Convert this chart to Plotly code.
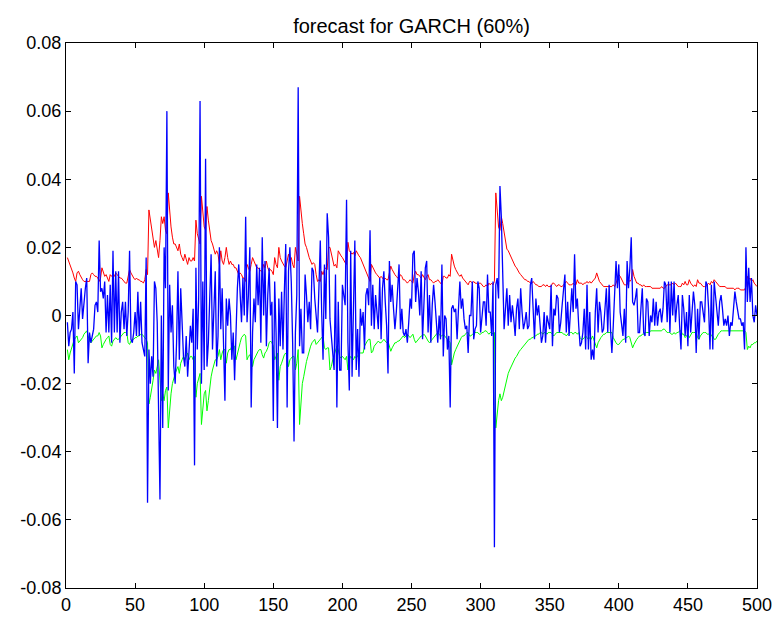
import plotly.graph_objects as go

# Daily returns and the GARCH forecast band, all in per-mille (1e-3) units.
returns_pm = [
    -2, -9, -5, -4, 1, -17, 10, 9, -4, 2,
    8, -1, 5, 8, 11, -14, -5, -8, -6, -4,
    3, 4, 1, 22, 7, 8, 5, 10, -5, 6,
    -5, 9, -8, 19, -5, 13, -5, 13, -8, 1,
    4, -4, 4, -6, 1, 19, -7, -8, -5, 1,
    -6, 7, -6, 4, -8, -10, -12, 17, -55, -10,
    -20, -12, -18, 10, 8, -2, -35, -54, 0, -33,
    20, 8, 60, -22, 9, -5, 3, -15, -20, -8,
    13, -13, 8, 0, -12, -15, -6, -18, -10, -3,
    -8, 2, -44, 14, -10, 5, 63, -20, 10, -16,
    46, -15, -8, 5, 18, -10, 5, 13, -15, -6,
    20, -4, 8, -10, -25, 5, -3, 5, 0, -13,
    -5, -19, -2, 8, 15, 4, -2, 11, 0, 29,
    -2, 6, 20, -27, -5, 5, -2, 15, 3, 14,
    -8, 23, 0, 16, -9, 6, 14, 0, 4, -31,
    10, -5, -33, 5, -9, 7, -10, 7, 21, -27,
    13, 20, 10, -8, -37, -5, 6, 67, -9, 2,
    -11, -11, 12, 6, -2, 4, -4, 14, 13, 5,
    0, -5, 8, 22, 1, -13, 15, -1, 30, 23,
    -1, -6, -9, -16, 12, -27, 4, -16, -16, 9,
    6, 3, 34, -8, -22, 19, -18, 5, 22, -16,
    -4, -18, 2, -3, 1, -10, 6, 8, 3, 25,
    -3, 9, -4, 6, 1, -4, 11, -7, 8, 13,
    4, -3, -17, 16, 4, 9, 2, -4, 1, 7,
    15, -4, 2, -5, -6, -4, -8, -2, 5, 2,
    18, 19, 4, 11, 7, 0, 13, -7, 5, 14,
    16, -5, 6, -8, 3, 9, 4, -2, -8, 0,
    -7, 15, -12, 0, -1, -10, -6, -27, 2, 3,
    1, 2, -7, 2, 10, 2, 5, -1, -4, -3,
    -11, 0, 0, 10, -7, -4, -3, 10, 8, -5,
    -1, 4, 4, -3, 12, 1, 1, -6, 10, -68,
    9, 11, 5, 38, 29, 13, -4, 2, 8, -3,
    6, -2, 3, -1, -6, 2, 5, -4, 8, 1,
    -4, -2, 1, -4, -3, 9, 11, 2, -7, 5,
    0, 3, -2, -8, -6, 1, -8, 0, -2, -4,
    9, -9, 2, 0, 6, 5, -5, -2, 3, 9,
    12, -5, 4, -6, 2, 8, 1, 18, 2, 5,
    -3, -9, -8, -5, 2, -10, 9, -10, 1, -13,
    -10, -13, 1, 8, -5, 4, 1, -5, -4, 4,
    8, -5, 9, -4, -11, -3, 6, 16, 8, 15,
    1, -2, -6, 2, -8, 16, 8, 14, 23, 4,
    3, 5, 8, -5, -5, 2, 8, -5, -6, 5,
    4, -6, 0, -2, 5, -3, 4, -3, 1, 2,
    -2, 2, 10, 9, -2, 10, -5, 10, 0, 10,
    -2, 3, 6, -3, -10, 6, 2, -6, 1, -9,
    6, -5, 2, 7, 3, -11, 2, -7, 4, 4,
    1, -2, 10, 9, 2, -10, 9, -10, 10, 5,
    2, -3, 4, 6, 2, -3, -1, -3, 0, -6,
    -2, -3, 2, 7, 4, 2, -1, -1, -3, -2,
    -10, 20, 4, 14, 4, 11, 0, -2, 3, 0,
]

upper_pm = [
    17, 16, 14.5, 13.5, 12.5, 11, 10, 12.5, 13, 12,
    11, 10.5, 10, 10, 10, 10, 10, 12, 12.5, 12,
    11.5, 11.5, 11, 10, 11, 14, 12.5, 11.5, 12, 11,
    10, 12, 11.5, 12, 11.5, 12.5, 12, 11.5, 11, 11,
    10.5, 10, 9.5, 9.5, 12, 13.5, 12.5, 11.5, 11, 10.5,
    11, 10.5, 10.5, 10, 10, 9.5, 10.5, 13.5, 12, 31,
    28, 26, 22, 20, 22, 19, 17, 22, 29, 27,
    29, 25, 24, 36, 30, 26, 23, 21, 21, 20,
    19, 21, 18, 17, 16, 18, 16, 15, 17, 16,
    16, 17, 16, 28, 24, 22, 21, 35, 30, 26,
    25, 32, 28, 24, 22, 21, 19, 18, 19, 18,
    15, 19, 16, 15, 17, 20, 17, 15, 16, 15,
    15, 14, 14, 13, 12, 12.5, 12, 11, 11, 10,
    15, 14, 13, 15, 17, 16, 15, 14, 14, 13.5,
    13, 13, 15, 14, 16, 14, 13, 13.5, 13, 12,
    17, 15, 14, 20, 17, 16, 15, 14.5, 14, 16,
    18, 16.5, 17, 15, 14, 20, 17.5, 16, 35, 30,
    27, 24, 21, 20, 18, 17, 16, 15, 15.5, 15,
    12, 10, 10.5, 10, 13, 12, 13.5, 14, 13.5, 20,
    20, 18, 16, 14.5, 15, 14, 19, 18, 17.5, 17,
    16, 15.5, 15, 21.5, 19, 18.5, 18, 18.5, 17.5, 19,
    18, 17.5, 17, 16, 15, 14, 13, 12, 11, 10,
    15, 14, 13.5, 12.5, 12, 11.5, 11, 11.5, 11, 10.5,
    11, 10.5, 10.5, 13, 14.5, 13.5, 12.5, 12, 11.5, 11,
    11, 12, 11.5, 10.5, 10.5, 10, 9.5, 10, 10.5, 10,
    9.5, 12, 13, 12, 12, 11.5, 11, 12, 11, 10.5,
    11.5, 12, 10.5, 10.5, 10, 9.5, 10, 10, 10.5, 10,
    9.5, 9, 11.5, 11.5, 11, 11, 12, 11.5, 18, 16,
    14.5, 13.5, 12.5, 12, 11.5, 12, 11, 10.5, 10, 9.5,
    9, 10, 10, 9.5, 10, 9.5, 9.5, 9, 9.5, 9.5,
    9, 8.5, 8.5, 9, 8.5, 9.5, 9, 9.5, 9, 10,
    36, 30, 26, 25, 29, 27, 24, 21.5, 19.5, 19,
    18, 17, 16, 15, 14.5, 14, 13, 12.5, 12, 11.5,
    11, 10.5, 10.5, 10, 10, 9.5, 9.5, 10, 9.5, 9,
    9, 8.5, 8.5, 8.5, 9, 9, 8.5, 9, 8.5, 8.5,
    8.5, 9.5, 9.5, 9, 8.5, 9, 9, 8.5, 8.5, 9,
    9.5, 10, 9.5, 9, 9, 9, 9.5, 9, 9, 10.5,
    9.5, 9.5, 9.5, 9, 9.5, 9.5, 10, 9.5, 10, 9.5,
    10, 10.5, 11, 12.5, 11, 10, 9.5, 9, 8.5, 8.5,
    8.5, 8.5, 8.5, 8.5, 8.5, 9, 8.5, 9.5, 11, 12,
    11.5, 10.5, 9.5, 9, 9, 9, 10.5, 10, 10.5, 13.5,
    11.5, 10.5, 9.5, 9.5, 9, 9, 8.5, 9, 8.5, 8.5,
    8.5, 8.5, 8.5, 8, 8, 8, 8, 8, 8, 8,
    8.5, 8, 8, 8.5, 9, 9, 9, 9, 9.5, 9,
    9.5, 9, 8.5, 8.5, 8.5, 9.5, 9, 10, 9, 9,
    10.5, 9.5, 9, 8.5, 9, 8.5, 10.5, 9.5, 9.5, 9,
    8.5, 8.5, 8.5, 9, 9.5, 9, 10, 9.5, 10.5, 10,
    9.5, 9, 8.5, 8.5, 8.5, 8.5, 8.5, 8, 8, 8,
    8, 8, 8, 7.5, 8, 8, 8, 7.5, 7.5, 7.5,
    7.5, 8.5, 11.5, 10.5, 11, 10, 10.5, 9.5, 9, 8.5,
]

lower_pm = [
    -10, -13, -11, -9.5, -8, -7, -6.5, -6, -8, -7.5,
    -7, -6.5, -5.5, -5, -4.5, -6, -7.5, -8, -7.5, -7,
    -6.5, -6, -6, -5, -6, -9.5, -8.5, -7.5, -7, -6.5,
    -6, -8.5, -9, -7.5, -7, -6.5, -7, -7, -6.5, -6,
    -5.5, -5, -5, -5, -8, -8.5, -7.5, -7, -7, -6.5,
    -6.5, -6, -6, -5.5, -5.5, -6, -6.5, -7, -8, -26,
    -24, -22, -19, -16, -17, -15, -13, -19, -25, -23,
    -25, -22, -21, -33, -27, -23, -20, -18, -17, -16,
    -15, -17, -14, -13, -12, -13, -12, -11, -13, -12,
    -12, -13, -12, -24, -20, -18, -17, -32, -27, -23,
    -22, -28, -25, -21, -18, -16, -14, -13, -13, -12,
    -10, -13, -11, -10, -10, -14, -11, -10, -10, -9,
    -9, -9, -13, -11, -9, -8, -6.5, -6, -5.5, -6,
    -13, -12, -11.5, -13, -15, -13, -12, -11, -10.5, -10,
    -10, -11.5, -12.5, -11, -10.5, -9.5, -8, -7.5, -8, -9,
    -13, -12, -11, -19, -15, -14, -12.5, -11.5, -11, -12,
    -15, -13, -12.5, -12, -12, -16, -14, -10, -32, -25,
    -20, -18, -15, -13.5, -12, -10, -9, -8, -7.5, -7,
    -8.5, -8, -7.5, -7, -6.5, -6, -9.5, -10, -9.5, -9.5,
    -16, -15, -13, -11.5, -10, -9, -10, -12, -12.5, -12,
    -12.5, -13, -12, -16, -13, -12, -12.5, -13, -12, -12.5,
    -12, -11, -11, -11, -11, -9, -8, -7.5, -7, -7,
    -11, -10.5, -9, -8.5, -8, -7.5, -8, -8, -7.5, -7,
    -7.5, -8, -7.5, -9, -10.5, -9.5, -8.5, -8, -8, -7.5,
    -7.5, -7, -6.5, -6, -6.5, -6, -5.5, -6, -6.5, -6,
    -5.5, -7, -8, -7.5, -7, -6.5, -6, -6, -5.5, -6,
    -7, -7.5, -8, -7.5, -7, -6.5, -6, -5.5, -5, -5.5,
    -6, -6, -5.5, -6, -6.5, -7, -7.5, -8, -14.5, -12.5,
    -11, -10, -9, -8, -7, -6.5, -6, -6, -5.5, -5,
    -5, -6, -6, -5.5, -5.5, -5, -5, -5, -5.5, -5.5,
    -5, -5, -4.5, -4.5, -5, -5.5, -5, -5, -5.5, -5,
    -33, -28, -25, -23, -25, -24, -22, -20, -18, -17,
    -16, -15, -14, -13, -12.5, -12, -11, -10.5, -10, -9.5,
    -9, -8.5, -8, -7.5, -7, -7, -6.5, -6.5, -6, -6,
    -5.5, -5.5, -5, -5, -5.5, -5, -5, -5.5, -5, -5,
    -5, -5.5, -6, -5.5, -5, -5, -5, -5, -5, -5.5,
    -5.5, -6, -5.5, -5, -5, -5, -5.5, -5, -5, -5.5,
    -5, -6.5, -7, -7, -6.5, -6, -6.5, -7, -6.5, -7,
    -6, -7, -8.5, -9.5, -8, -7, -6.5, -6, -5.5, -5.5,
    -5, -5, -5, -5, -5, -6.5, -7.5, -8, -8.5, -8.5,
    -8, -7.5, -7, -7, -6.5, -6.5, -6, -6.5, -8, -9.5,
    -8.5, -7.5, -7, -6.5, -6, -6, -5.5, -5.5, -5, -5,
    -5, -5, -4.5, -4.5, -4.5, -4.5, -4.5, -4.5, -4.5, -4.5,
    -4.5, -4, -4, -4.5, -5, -5, -5, -5.5, -5.5, -5,
    -5.5, -5, -5, -4.5, -4.5, -5.5, -5.5, -6.5, -6, -5.5,
    -6.5, -5.5, -5, -5, -5, -5, -6.5, -7, -6, -5.5,
    -5, -5, -5, -5.5, -5.5, -5, -6, -6, -7, -7,
    -6, -5.5, -5, -4.5, -4.5, -4.5, -4.5, -4.5, -4.5, -4.5,
    -4.5, -4.5, -4.5, -4.5, -4.5, -4.5, -4.5, -4.5, -4.5, -4.5,
    -4.5, -5, -10, -9, -9.5, -8.5, -8.5, -8, -8, -7.5,
]

x_ticks = [0, 50, 100, 150, 200, 250, 300, 350, 400, 450, 500]
y_ticks = [-0.08, -0.06, -0.04, -0.02, 0, 0.02, 0.04, 0.06, 0.08]
y_tick_text = ["-0.08", "-0.06", "-0.04", "-0.02", "0", "0.02", "0.04", "0.06", "0.08"]

assert len(returns_pm) == len(upper_pm) == len(lower_pm) == 500

days = list(range(1, len(returns_pm) + 1))
PM = 1e-3
returns = [v * PM for v in returns_pm]
upper = [v * PM for v in upper_pm]
lower = [v * PM for v in lower_pm]

FONT = "Liberation Sans, Arial, Helvetica, sans-serif"

fig = go.Figure()
fig.add_trace(go.Scatter(x=days, y=upper, mode="lines",
                         line=dict(color="#ff0000", width=1), hoverinfo="skip"))
fig.add_trace(go.Scatter(x=days, y=lower, mode="lines",
                         line=dict(color="#00ff00", width=1), hoverinfo="skip"))
fig.add_trace(go.Scatter(x=days, y=returns, mode="lines",
                         line=dict(color="#0000ff", width=1.3), hoverinfo="skip"))

axis_common = dict(
    showgrid=False, zeroline=False, showline=True, linecolor="black", linewidth=1,
    mirror="ticks", ticks="inside", ticklen=5, tickwidth=1, tickcolor="black",
    automargin=False,
    tickfont=dict(family=FONT, size=18, color="black"),
)

fig.update_layout(
    width=777, height=618,
    paper_bgcolor="white", plot_bgcolor="white",
    margin=dict(l=66, r=20, t=43, b=30, autoexpand=False),
    showlegend=False,
    title=dict(text="forecast for GARCH (60%)", x=0.5, xref="paper",
               y=1, yref="paper", yanchor="bottom", pad=dict(b=10),
               font=dict(family=FONT, size=20, color="black")),
    xaxis=dict(range=[0, 500], tickvals=x_ticks, **axis_common),
    yaxis=dict(range=[-0.08, 0.08], tickvals=y_ticks, ticktext=y_tick_text, **axis_common),
)

fig.write_html("out.html")
